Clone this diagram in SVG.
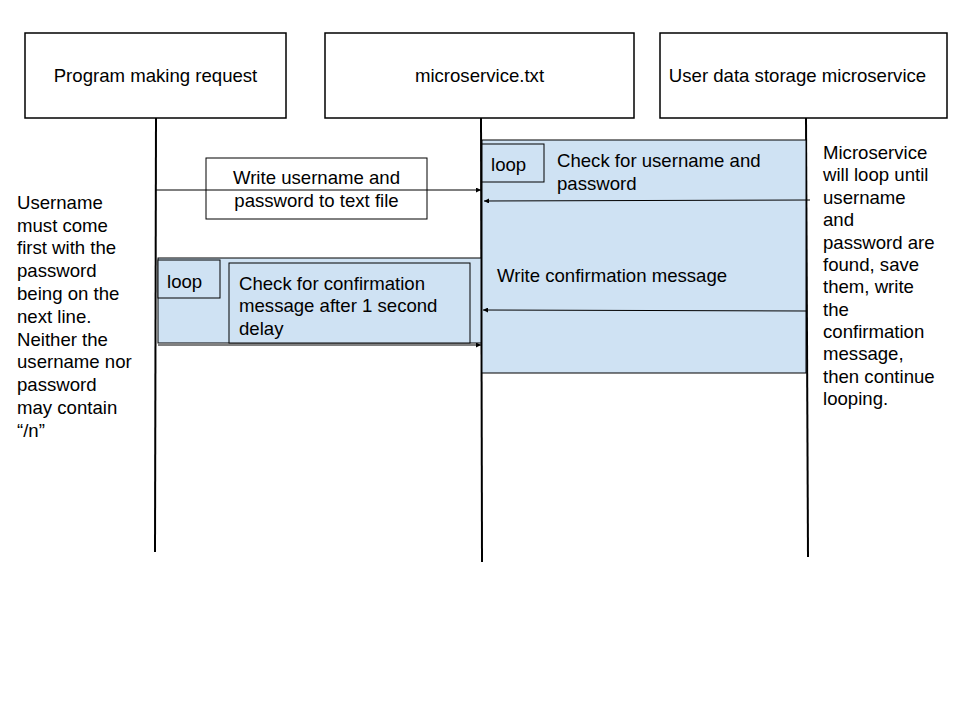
<svg xmlns="http://www.w3.org/2000/svg" width="960" height="720" viewBox="0 0 960 720">
<style>
text{font-family:"Liberation Sans",Arial,sans-serif;font-size:18.6px;fill:#000}
.box{fill:#fff;stroke:#000;stroke-width:1.5}
.loop{fill:#cfe2f3;stroke:#000;stroke-width:1}
.life{stroke:#000;stroke-width:2;fill:none}
.msg{stroke:#000;stroke-width:1;fill:none}
</style>
<defs>
<marker id="ah" viewBox="0 0 10 10" refX="10" refY="5" markerWidth="6" markerHeight="5" orient="auto" markerUnits="userSpaceOnUse"><path d="M0,0L10,5L0,10z" fill="#000"/></marker>
</defs>
<rect width="960" height="720" fill="#fff"/>
<g id="lifelines">
<line class="life" x1="156" y1="118" x2="155" y2="552"/>
<line class="life" x1="481" y1="118" x2="482" y2="562"/>
<line class="life" x1="806" y1="118" x2="808" y2="557"/>
</g>
<g id="program"><rect class="box" x="25" y="33" width="261" height="85"/><text x="155.5" y="82" text-anchor="middle">Program making request</text></g>
<g id="microservice-txt"><rect class="box" x="325" y="33" width="309" height="85"/><text x="479.5" y="82" text-anchor="middle">microservice.txt</text></g>
<g id="storage"><rect class="box" x="660" y="33" width="287" height="85"/><text x="797.5" y="82" text-anchor="middle">User data storage microservice</text></g>
<g id="loop-right">
<rect class="loop" x="482" y="140" width="324" height="233"/>
<rect class="loop" x="482" y="144" width="62" height="38"/>
<text x="491" y="171">loop</text>
<text x="557" y="167">Check for username and</text>
<text x="557" y="190">password</text>
<text x="497" y="282">Write confirmation message</text>
</g>
<g id="loop-left">
<rect class="loop" x="158" y="258" width="323" height="85"/>
<rect class="loop" x="158" y="260" width="62" height="38"/>
<text x="167" y="288">loop</text>
<rect class="loop" x="229" y="263" width="241" height="80"/>
<text x="239" y="290">Check for confirmation</text>
<text x="239" y="312">message after 1 second</text>
<text x="239" y="335">delay</text>
</g>
<g id="write-box"><rect x="206" y="158" width="221" height="61" fill="#fff" stroke="#000" stroke-width="1"/>
<text x="316.5" y="184" text-anchor="middle">Write username and</text>
<text x="316.5" y="207" text-anchor="middle">password to text file</text></g>
<g id="connectors">
<line class="msg" x1="156" y1="190" x2="481" y2="190" marker-end="url(#ah)"/>
<line class="msg" x1="810" y1="200" x2="484" y2="201" marker-end="url(#ah)"/>
<line class="msg" x1="806" y1="311" x2="483" y2="310" marker-end="url(#ah)"/>
<line class="msg" x1="158" y1="345" x2="481" y2="345" marker-end="url(#ah)"/>
</g>
<g id="note-left">
<text x="17" y="209">Username</text>
<text x="17" y="232">must come</text>
<text x="17" y="254">first with the</text>
<text x="17" y="277">password</text>
<text x="17" y="300">being on the</text>
<text x="17" y="323">next line.</text>
<text x="17" y="346">Neither the</text>
<text x="17" y="368">username nor</text>
<text x="17" y="391">password</text>
<text x="17" y="414">may contain</text>
<text x="17" y="437">“/n”</text>
</g>
<g id="note-right">
<text x="823" y="159">Microservice</text>
<text x="823" y="181">will loop until</text>
<text x="823" y="204">username</text>
<text x="823" y="226">and</text>
<text x="823" y="249">password are</text>
<text x="823" y="271">found, save</text>
<text x="823" y="293">them, write</text>
<text x="823" y="316">the</text>
<text x="823" y="338">confirmation</text>
<text x="823" y="360">message,</text>
<text x="823" y="383">then continue</text>
<text x="823" y="405">looping.</text>
</g>
</svg>
